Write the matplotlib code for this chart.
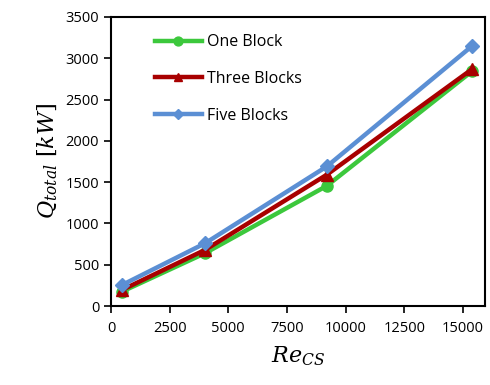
import matplotlib
matplotlib.use('Agg')
import matplotlib.pyplot as plt

re_cs = [470, 4010, 9200, 15380]
one_block = [175, 640, 1455, 2840]
three_blocks = [195, 680, 1590, 2865]
five_blocks = [255, 760, 1690, 3145]

plt.rcParams['font.family'] = ['Open Sans', 'DejaVu Sans']
plt.rcParams['mathtext.fontset'] = 'dejavuserif'

fig = plt.figure(figsize=(4.9, 3.85), dpi=100)
ax = fig.add_axes([0.2265, 0.205, 0.7635, 0.751])

ax.plot(re_cs, one_block, color='#3cc83c', lw=3.2, marker='o', ms=8, label='One Block', zorder=3)
ax.plot(re_cs, three_blocks, color='#a80000', lw=3.2, marker='^', ms=8, label='Three Blocks', zorder=4)
ax.plot(re_cs, five_blocks, color='#5b8fd4', lw=3.2, marker='D', ms=7, label='Five Blocks', zorder=5)

ax.set_xlim(0, 15950)
ax.set_ylim(0, 3500)
ax.set_xticks(range(0, 15001, 2500))
ax.set_yticks(range(0, 3501, 500))
ax.tick_params(direction='out', length=5, width=1.2, labelsize=10.5, colors='black')
ax.tick_params(axis='x', pad=6)
for s in ax.spines.values():
    s.set_linewidth(1.5)

ax.set_xlabel(r'$Re_{CS}$', fontsize=16, labelpad=6)
ax.set_ylabel(r'$Q_{total}\ [kW]$', fontsize=16, labelpad=4)

leg = ax.legend(loc='upper left', frameon=False, fontsize=11.5, handlelength=2.9,
                labelspacing=1.3, bbox_to_anchor=(0.08, 0.99), handletextpad=0.35,
                markerscale=0.8)

fig.savefig('out.png', dpi=100)
